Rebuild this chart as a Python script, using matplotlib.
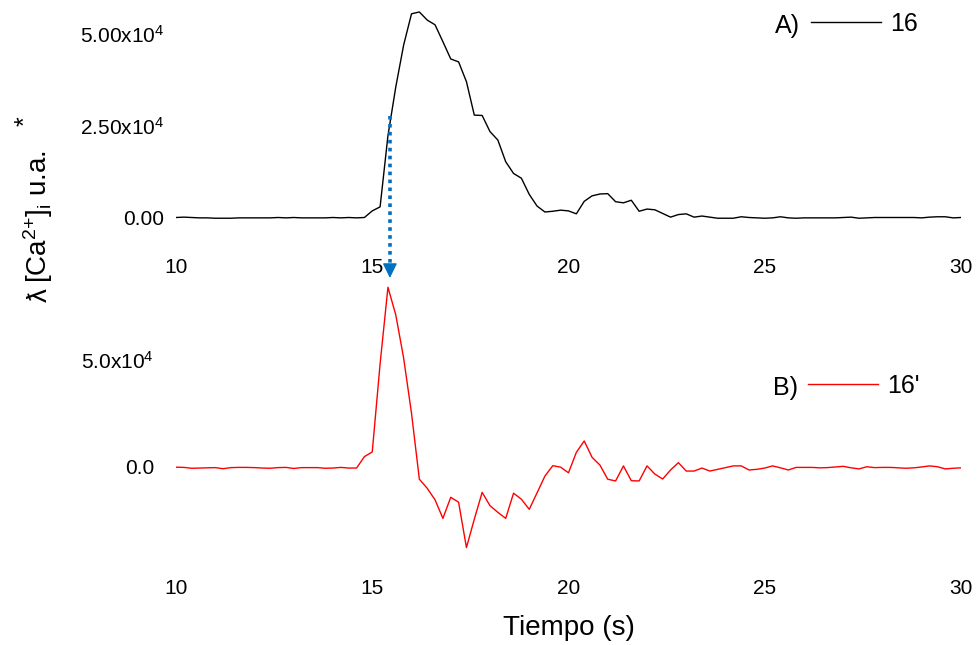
import numpy as np
import matplotlib
matplotlib.use('Agg')
from matplotlib import pyplot as plt

plt.rcParams['font.family'] = ['Liberation Sans', 'DejaVu Sans']
plt.rcParams['mathtext.fontset'] = 'custom'
plt.rcParams['mathtext.rm'] = 'Liberation Sans'
plt.rcParams['mathtext.it'] = 'Liberation Sans:italic'

# time (s), one sample every 0.2 s
time = np.linspace(10, 30, 101)

# trace 16 (values in units of 1e4)
trace_16 = np.array([
    0.00, 0.01, 0.00, -0.01, -0.01, -0.02, -0.02, -0.02, -0.01, -0.01,
    -0.01, -0.01, -0.01, 0.00, -0.01, 0.00, -0.01, -0.01, -0.01, -0.01,
    0.00, -0.01, 0.00, -0.01, 0.00, 0.18, 0.29, 2.23, 3.56, 4.70,
    5.55, 5.60, 5.38, 5.25, 4.79, 4.32, 4.24, 3.70, 2.79, 2.78,
    2.34, 2.11, 1.52, 1.20, 1.07, 0.63, 0.31, 0.15, 0.17, 0.20,
    0.18, 0.10, 0.44, 0.59, 0.64, 0.65, 0.43, 0.40, 0.47, 0.17,
    0.23, 0.21, 0.11, 0.01, 0.08, 0.10, 0.01, 0.04, 0.01, -0.02,
    -0.02, -0.02, 0.02, 0.00, -0.01, -0.02, -0.01, 0.02, -0.01, -0.02,
    -0.01, -0.01, -0.01, -0.01, -0.01, 0.00, 0.01, -0.02, -0.01, 0.00,
    0.00, 0.00, 0.00, 0.00, 0.00, -0.01, 0.01, 0.02, 0.02, -0.01,
    0.00]) * 1e4

# trace 16' (values in units of 1e4)
trace_16p = np.array([
    -0.01, -0.02, -0.06, -0.05, -0.04, -0.03, -0.08, -0.03, -0.02, -0.02,
    -0.03, -0.05, -0.06, -0.03, -0.02, -0.07, -0.03, -0.03, -0.03, -0.06,
    -0.05, -0.02, -0.05, -0.05, 0.48, 0.70, 4.80, 8.36, 7.07, 5.06,
    2.50, -0.57, -0.99, -1.53, -2.39, -1.41, -1.64, -3.75, -2.43, -1.18,
    -1.80, -2.11, -2.39, -1.22, -1.50, -1.97, -1.20, -0.42, 0.06, -0.01,
    -0.27, 0.68, 1.21, 0.45, 0.09, -0.57, -0.65, 0.05, -0.64, -0.65,
    0.05, -0.33, -0.56, -0.14, 0.20, -0.19, -0.19, -0.05, -0.19, -0.11,
    -0.03, 0.05, 0.05, -0.14, -0.11, -0.05, 0.05, -0.04, -0.14, -0.02,
    -0.02, -0.02, -0.04, -0.03, 0.00, 0.03, -0.04, -0.09, 0.01, -0.03,
    -0.02, -0.02, -0.04, -0.06, -0.04, 0.00, 0.05, 0.01, -0.09, -0.06,
    -0.04]) * 1e4

x_ticks = [10, 15, 20, 25, 30]
top_yticks = [0, 2.5e4, 5e4]
top_ylabels = ['0.00', r'2.50x10$\mathregular{^4}$', r'5.00x10$\mathregular{^4}$']
bot_yticks = [0, 5e4]
bot_ylabels = ['0.0', r'5.0x10$\mathregular{^4}$']
arrow_t = 15.45

W, H = 977, 645
blue = '#0070C0'


def px_box(left, top, right, bottom):
    return [left / W, 1 - bottom / H, (right - left) / W, (bottom - top) / H]


def style(ax, ypad, xpad):
    for s in ax.spines.values():
        s.set_visible(False)
    ax.set_xlim(10, 30)
    ax.set_xticks(x_ticks)
    ax.tick_params(length=0, labelsize=15)
    ax.tick_params(axis='y', pad=ypad)
    ax.tick_params(axis='x', pad=xpad)


fig = plt.figure(figsize=(W / 100, H / 100), dpi=100)

ax1 = fig.add_axes(px_box(176, 5, 961, 240))
ax1.plot(time, trace_16, color='black', lw=1.0, label='16')
style(ax1, 8.6, 13)
ax1.set_ylim(-0.613e4, 5.79e4)
ax1.set_yticks(top_yticks)
ax1.set_yticklabels(top_ylabels)

ax2 = fig.add_axes(px_box(176, 275, 961, 565))
ax2.plot(time, trace_16p, color='red', lw=1.0, label="16'")
style(ax2, 15.8, 10)
ax2.set_ylim(-4.56e4, 8.93e4)
ax2.set_yticks(bot_yticks)
ax2.set_yticklabels(bot_ylabels)

for ax, tag, xl, xh, yl in [(ax1, 'A)', 775, 811, 24), (ax2, 'B)', 773, 808, 386)]:
    ax.legend(loc='center left', bbox_to_anchor=(xh / W, 1 - yl / H),
              bbox_transform=fig.transFigure, frameon=False, fontsize=18,
              handlelength=2.8, handletextpad=0.37, borderpad=0, borderaxespad=0)
    fig.text(xl / W, 1 - (yl + 9.5) / H, tag, fontsize=18, ha='left', va='baseline')

# dotted arrow from trace 16 down to the peak of 16'
shaft_end = ax1.transData.inverted().transform(
    ax2.transData.transform((arrow_t, 9.35e4)))[1]
ax1.plot([arrow_t, arrow_t], [2.77e4, shaft_end], color=blue, lw=2.6,
         linestyle=(0, (1, 1.2)), dash_capstyle='butt', clip_on=False)
ax2.annotate('', xy=(arrow_t, 8.79e4), xytext=(arrow_t, 9.36e4),
             arrowprops=dict(arrowstyle='-|>,head_length=0.45,head_width=0.22',
                             mutation_scale=20, color=blue, lw=1,
                             shrinkA=0, shrinkB=0),
             annotation_clip=False)

# axis labels
fig.text(568.5 / W, 1 - 635 / H, 'Tiempo (s)', fontsize=20, ha='center', va='baseline')
fig.text(47 / W, 1 - 302 / H, '\u019b', fontsize=20, rotation=90,
         rotation_mode='anchor', ha='left', va='baseline')
fig.text(47 / W, 1 - 283 / H, r'[Ca$^{2{+}}$]$_{\mathrm{i}}$ u.a.',
         fontsize=20, rotation=90, rotation_mode='anchor', ha='left', va='baseline')
fig.text(32 / W, 1 - 126 / H, '*', fontsize=18, rotation=90,
         rotation_mode='anchor', ha='left', va='baseline')

fig.savefig('out.png', dpi=100)
